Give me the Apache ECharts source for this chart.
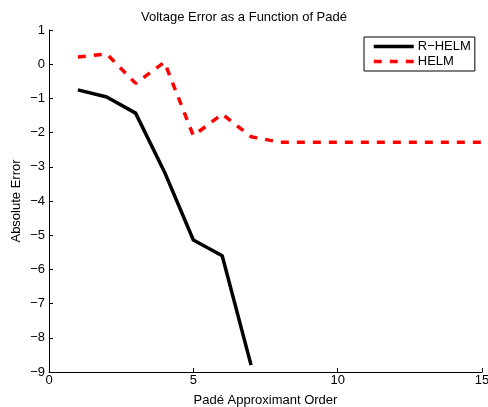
<!DOCTYPE html>
<html><head><meta charset="utf-8">
<script src="https://cdn.jsdelivr.net/npm/echarts@6/dist/echarts.min.js"></script>
<style>html,body{margin:0;padding:0;background:#fff}#c{width:488px;height:407px}</style>
</head><body><div id="c"></div>
<script>
const xOrder = [1,2,3,4,5,6,7,8,9,10,11,12,13,14,15];
const rHelm = [-0.75,-0.96,-1.43,-3.15,-5.14,-5.6,-8.8];
const helm = [0.21,0.3,-0.56,0.06,-2.09,-1.46,-2.12,-2.28,-2.28,-2.28,-2.28,-2.28,-2.28,-2.28,-2.28];
const seriesNames = ['R\u2212HELM','HELM'];
const F = 'Liberation Sans, Arial, Helvetica, sans-serif';
const chart = echarts.init(document.getElementById('c'));
const fmt = v => String(v).replace('-', '\u2212');
chart.setOption({
  animation:false,
  title:{text:'Voltage Error as a Function of Pad\u00e9',left:'center',top:6,textStyle:{fontFamily:F,fontSize:13,fontWeight:'normal',color:'#000'}},
  legend:{orient:'vertical',left:364,top:37,width:112,padding:[3,4,3,8],itemGap:2,itemWidth:40,itemHeight:14,borderColor:'#000',borderWidth:1,backgroundColor:'#fff',
    itemStyle:{opacity:0},lineStyle:{width:3.5},
    textStyle:{fontFamily:F,fontSize:13,color:'#000',padding:[0,0,0,-1]},data:seriesNames},
  grid:{left:49,top:30,right:6,bottom:35,containLabel:false,outerBoundsMode:'none'},
  xAxis:{type:'value',min:0,max:15,interval:5,
    name:'Pad\u00e9 Approximant Order',nameLocation:'middle',nameGap:22,nameMoveOverlap:false,nameTextStyle:{fontFamily:F,fontSize:13,color:'#000'},
    axisLine:{onZero:false,lineStyle:{color:'#000',width:1}},axisTick:{inside:true,length:4,lineStyle:{color:'#000'}},
    axisLabel:{fontFamily:F,fontSize:13,color:'#000',margin:2},splitLine:{show:false}},
  yAxis:{type:'value',min:-9,max:1,interval:1,
    name:'Absolute Error',nameLocation:'middle',nameGap:26,nameMoveOverlap:false,nameTextStyle:{fontFamily:F,fontSize:13,color:'#000'},
    axisLine:{show:true,onZero:false,lineStyle:{color:'#000',width:1}},axisTick:{show:true,inside:true,length:4,lineStyle:{color:'#000'}},
    axisLabel:{fontFamily:F,fontSize:13,color:'#000',margin:4,formatter:fmt},splitLine:{show:false}},
  series:[
    {name:seriesNames[0],type:'line',symbol:'none',data:rHelm.map((v,i)=>[xOrder[i],v]),lineStyle:{color:'#000',width:3.5},itemStyle:{color:'#000'}},
    {name:seriesNames[1],type:'line',symbol:'none',data:helm.map((v,i)=>[xOrder[i],v]),lineStyle:{color:'#ff0000',width:3.5,type:[8,8]},itemStyle:{color:'#ff0000'}}
  ]
});
</script></body></html>
